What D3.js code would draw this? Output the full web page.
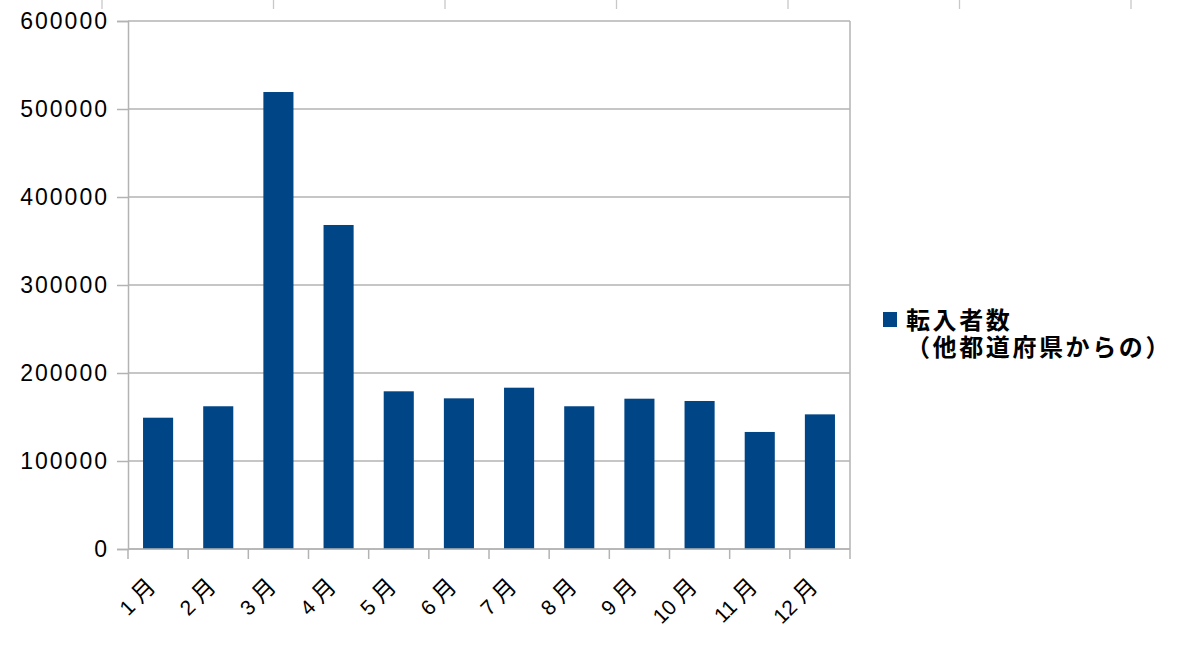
<!DOCTYPE html>
<html><head><meta charset="utf-8">
<script src="https://cdn.jsdelivr.net/npm/d3@7"></script>
<style>html,body{margin:0;padding:0;background:#fff;}svg{display:block;}</style>
</head><body>
<script>
const monthNums = ["1","2","3","4","5","6","7","8","9","10","11","12"];
const months = monthNums.map(n=>n+"月");
const values = [149200,162200,519300,368200,179200,171200,183300,162200,170800,168200,133000,153000];
const yTicks = [0,100000,200000,300000,400000,500000,600000];
const seriesName = ["転入者数","（他都道府県からの）"];

const W=1200,H=654;
const L=128,R=850,T=21,B=549;
const svg=d3.select("body").append("svg").attr("width",W).attr("height",H);
const grid="#b3b3b3";

// stray top tick marks (from the source picture)
const topScale=d3.scaleLinear().domain([0,6]).range([102,1131]);
svg.append("g").selectAll("line").data(d3.range(7)).join("line")
  .attr("x1",d=>topScale(d)).attr("x2",d=>topScale(d)).attr("y1",0).attr("y2",9)
  .attr("stroke","#c8c8c8").attr("stroke-width",1.3);

const x=d3.scaleBand().domain(months).range([L,R]).paddingInner(0.5).paddingOuter(0.25);
const y=d3.scaleLinear().domain([0,600000]).range([B,T]);

// gridlines
svg.append("g").selectAll("line").data(yTicks).join("line")
  .attr("x1",L).attr("x2",R).attr("y1",d=>y(d)).attr("y2",d=>y(d))
  .attr("stroke",grid).attr("stroke-width",1.5);
// right border
svg.append("line").attr("x1",R).attr("x2",R).attr("y1",T).attr("y2",B).attr("stroke",grid).attr("stroke-width",1.5);

// bars
svg.append("g").selectAll("rect").data(values).join("rect")
  .attr("x",(d,i)=>x(months[i])).attr("width",x.bandwidth())
  .attr("y",d=>y(d)).attr("height",d=>B-y(d)).attr("fill","#004586");

// y axis
const yAxis=svg.append("g").attr("transform",`translate(${L},0)`)
  .call(d3.axisLeft(y).tickValues(yTicks).tickSize(11).tickPadding(8).tickFormat(d3.format("d")));
yAxis.select(".domain").attr("stroke",grid).attr("stroke-width",1.5);
yAxis.selectAll(".tick line").attr("stroke",grid).attr("stroke-width",1.5);
yAxis.selectAll("text").attr("font-family","'Liberation Sans',Arial,sans-serif").attr("font-size",23)
  .style("letter-spacing","2px").attr("fill","#000");

// x axis with ticks at band boundaries
const boundaries=d3.range(13).map(i=>L+i*x.step());
const xa=svg.append("g");
xa.append("line").attr("x1",L).attr("x2",R).attr("y1",B).attr("y2",B).attr("stroke",grid).attr("stroke-width",1.5);
xa.selectAll("line.t").data(boundaries).join("line").attr("class","t")
  .attr("x1",d=>d).attr("x2",d=>d).attr("y1",B).attr("y2",B+10).attr("stroke",grid).attr("stroke-width",1.5);
const xl=xa.selectAll("text").data(monthNums).join("text")
  .attr("transform",(d,i)=>`translate(${x(months[i])+x.bandwidth()/2-1},${B+39}) rotate(-45)`)
  .attr("text-anchor","end")
  .attr("font-family","'Liberation Sans',sans-serif").attr("font-size",21)
  .attr("fill","#000");
xl.append("tspan").text(d=>d);
xl.append("tspan").attr("dx",6).attr("font-family","'Noto Sans CJK JP',sans-serif")
  .attr("font-size",23).text("月");

// legend
svg.append("rect").attr("x",883).attr("y",312).attr("width",14).attr("height",15).attr("fill","#004586");
const lt=svg.append("text").attr("font-family","'Noto Sans CJK JP',sans-serif").attr("font-weight","bold")
  .attr("font-size",24).style("letter-spacing","2.6px").attr("fill","#000");
lt.append("tspan").attr("x",906).attr("y",329).text(seriesName[0]);
lt.append("tspan").attr("x",906).attr("y",356).text(seriesName[1]);
</script>
</body></html>
